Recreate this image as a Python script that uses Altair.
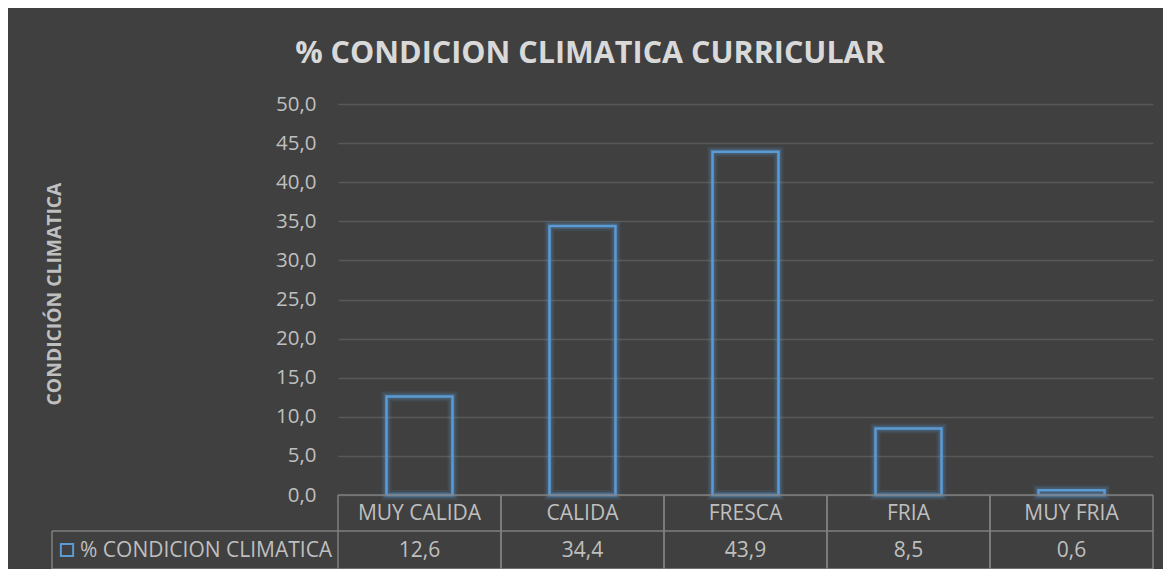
import altair as alt
import pandas as pd

categories = ["MUY CALIDA", "CALIDA", "FRESCA", "FRIA", "MUY FRIA"]
values = [12.6, 34.4, 43.9, 8.5, 0.6]
tick_values = [0, 5, 10, 15, 20, 25, 30, 35, 40, 45, 50]
title_text = "% CONDICION CLIMATICA CURRICULAR"
y_title = "CONDICIÓN CLIMATICA"
series_name = "% CONDICION CLIMATICA"

BG = "#404040"
TXT = "#bfbfbf"
LINE = "#7f7f7f"
BLUE = "#5b9bd5"
FONT = "Open Sans"

W, H = 815, 391
ROW1, ROW2 = 427, 465
LEFT_CELL = -286

df = pd.DataFrame({"cat": categories, "v": values})
one = pd.DataFrame({"k": [0]})

xenc = alt.X("cat:N", sort=categories,
             scale=alt.Scale(paddingInner=0, paddingOuter=0),
             axis=None)
yaxis = alt.Axis(values=tick_values, labelOverlap=False,
                 labelExpr="replace(format(datum.value, '.1f'), '.', ',')",
                 labelColor=TXT, labelFont=FONT, labelFontSize=20.5,
                 labelPadding=22, ticks=False, domain=False,
                 gridColor="#585858", gridWidth=1.3)
yenc = alt.Y("v:Q", scale=alt.Scale(domain=[0, 50], nice=False, zero=True),
             title=None, axis=yaxis)

base = alt.Chart(df)

glow1 = base.mark_bar(width=alt.RelativeBandSize(0.405), fillOpacity=0,
                      stroke=BLUE, strokeWidth=10, strokeOpacity=0.12).encode(
    x=xenc, y=yenc)
glow2 = base.mark_bar(width=alt.RelativeBandSize(0.405), fillOpacity=0,
                      stroke=BLUE, strokeWidth=6, strokeOpacity=0.22).encode(
    x=xenc, y=yenc)
bars = base.mark_bar(width=alt.RelativeBandSize(0.405), fillOpacity=0,
                     stroke=BLUE, strokeWidth=2.5).encode(
    x=xenc, y=yenc)

vlines_l = base.mark_rule(color=LINE, strokeWidth=1.5).encode(
    x=alt.X("cat:N", sort=categories, bandPosition=0,
            scale=alt.Scale(paddingInner=0, paddingOuter=0), axis=None),
    y=alt.value(H), y2=alt.value(ROW2))
vlines_r = base.mark_rule(color=LINE, strokeWidth=1.5).encode(
    x=alt.X("cat:N", sort=categories, bandPosition=1,
            scale=alt.Scale(paddingInner=0, paddingOuter=0), axis=None),
    y=alt.value(H), y2=alt.value(ROW2))

hline0 = alt.Chart(one).mark_rule(color=LINE, strokeWidth=1.5).encode(
    x=alt.value(0), x2=alt.value(W), y=alt.value(H))
hline1 = alt.Chart(one).mark_rule(color=LINE, strokeWidth=1.5).encode(
    x=alt.value(LEFT_CELL), x2=alt.value(W), y=alt.value(ROW1))
hline2 = alt.Chart(one).mark_rule(color=LINE, strokeWidth=1.5).encode(
    x=alt.value(LEFT_CELL), x2=alt.value(W), y=alt.value(ROW2))
vleft = alt.Chart(one).mark_rule(color=LINE, strokeWidth=1.5).encode(
    x=alt.value(LEFT_CELL), y=alt.value(ROW1), y2=alt.value(ROW2))

cat_text = base.mark_text(font=FONT, fontSize=21, color=TXT, baseline="middle").encode(
    x=xenc, y=alt.value((H + ROW1) / 2 + 1), text="cat:N")
val_text = base.transform_calculate(
    lab="replace(format(datum.v, '.1f'), '.', ',')"
).mark_text(font=FONT, fontSize=21, color=TXT, baseline="middle").encode(
    x=xenc, y=alt.value((ROW1 + ROW2) / 2 + 1), text="lab:N")

legend_sq = alt.Chart(one).mark_point(shape="square", filled=False, size=150,
                                      stroke=BLUE, strokeWidth=2, opacity=1).encode(
    x=alt.value(-271), y=alt.value((ROW1 + ROW2) / 2))
legend_txt = alt.Chart(one).mark_text(font=FONT, fontSize=21, color=TXT,
                                      align="left", baseline="middle",
                                      text=series_name).encode(
    x=alt.value(-258), y=alt.value((ROW1 + ROW2) / 2 + 1))

title = alt.Chart(one).mark_text(font=FONT, fontSize=30.5, fontWeight="bold",
                                 color="#d9d9d9", align="center",
                                 baseline="alphabetic", text=title_text).encode(
    x=alt.value(252), y=alt.value(-41))

ytitle = alt.Chart(one).mark_text(font=FONT, fontSize=19.3, fontWeight="bold",
                                  color=TXT, align="center", baseline="middle",
                                  angle=270, text=y_title).encode(
    x=alt.value(-283), y=alt.value(190))

chart = alt.layer(
    glow1, glow2, bars,
    vlines_l, vlines_r, hline0, hline1, hline2, vleft,
    cat_text, val_text, legend_sq, legend_txt, title, ytitle,
).properties(
    width=W, height=H,
    background=BG,
    padding={"left": 330, "top": 96, "right": 10, "bottom": 74},
    autosize=alt.AutoSizeParams(type="none"),
).configure_view(strokeWidth=0)

chart.save("out.html", embed_options={"renderer": "svg", "actions": False})
